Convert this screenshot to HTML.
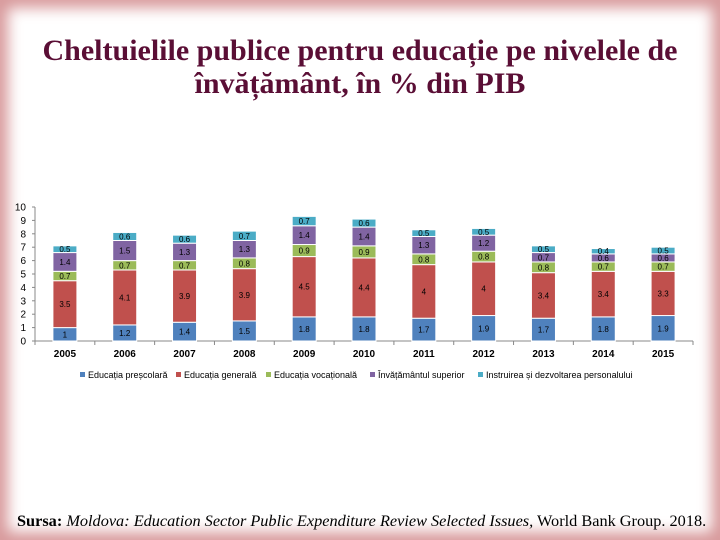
<!DOCTYPE html>
<html><head><meta charset="utf-8">
<style>
body{margin:0;width:720px;height:540px;overflow:hidden;font-family:"Liberation Sans",sans-serif;}
#frame{position:absolute;left:0;top:0;width:720px;height:540px;background:#fff;box-shadow:inset 0 0 14px 8px #d89a9c;}
#title{position:absolute;left:0;top:34px;width:720px;text-align:center;font-family:"Liberation Serif",serif;font-weight:bold;font-size:30px;line-height:33px;color:#5a0e35;}
#src{position:absolute;left:17px;top:511px;width:710px;font-family:"Liberation Serif",serif;font-size:16.3px;color:#000;white-space:nowrap;}
svg{position:absolute;left:0;top:0;}
</style></head><body>
<div id="frame"></div>
<div id="title">Cheltuielile publice pentru educație pe nivelele de<br>învățământ, în % din PIB</div>
<svg id="chart" width="720" height="540"></svg>
<div id="src"><b>Sursa:</b> <i>Moldova: Education Sector Public Expenditure Review Selected Issues,</i> World Bank Group. 2018.</div>
<script>
const categories=["2005","2006","2007","2008","2009","2010","2011","2012","2013","2014","2015"];
const seriesNames=["Educația preșcolară","Educația generală","Educația vocațională","Învățământul superior","Instruirea și dezvoltarea personalului"];
const prescolara=[1,1.2,1.4,1.5,1.8,1.8,1.7,1.9,1.7,1.8,1.9];
const generala=[3.5,4.1,3.9,3.9,4.5,4.4,4,4,3.4,3.4,3.3];
const vocationala=[0.7,0.7,0.7,0.8,0.9,0.9,0.8,0.8,0.8,0.7,0.7];
const superior=[1.4,1.5,1.3,1.3,1.4,1.4,1.3,1.2,0.7,0.6,0.6];
const instruire=[0.5,0.6,0.6,0.7,0.7,0.6,0.5,0.5,0.5,0.4,0.5];
const yTicks=[0,1,2,3,4,5,6,7,8,9,10];
const colors=["#4f81bd","#c0504d","#9bbb59","#8064a2","#4bacc6"];
const series=[prescolara,generala,vocationala,superior,instruire];
const NS="http://www.w3.org/2000/svg";
const svg=document.getElementById('chart');
const L=35,R=693,Y0=341,Y1=207,yMax=10;
const band=(R-L)/categories.length;
const y=v=>Y0-(v/yMax)*(Y0-Y1);
const xc=i=>L+band*(i+0.5);
function mk(t,a){const e=document.createElementNS(NS,t);for(const k in a)e.setAttribute(k,a[k]);svg.appendChild(e);return e;}
let ax=mk('line',{x1:L,y1:Y1,x2:L,y2:Y0,stroke:'#888'});


let bx=mk('line',{x1:L,y1:Y0,x2:R,y2:Y0,stroke:'#888'});


yTicks.forEach(t=>{
 mk('line',{x1:L-3,y1:y(t),x2:L,y2:y(t),stroke:'#888'});
 const tx=mk('text',{x:L-9,y:y(t)+3.5,'text-anchor':'end','font-size':10,fill:'#000'});
 tx.textContent=t;
 
 
});
for(let i=0;i<=categories.length;i++) mk('line',{x1:L+band*i,y1:Y0,x2:L+band*i,y2:Y0+4,stroke:'#888'});
categories.forEach((c,i)=>{
 const tx=mk('text',{x:xc(i),y:Y0+16,'text-anchor':'middle','font-size':10,'font-weight':'bold',fill:'#000'});
 tx.textContent=c;
 
 
 let acc=0;
 series.forEach((s,k)=>{
  const v=s[i];
  const r=mk('rect',{x:xc(i)-12,y:y(acc+v),width:24,height:y(acc)-y(acc+v),fill:colors[k],stroke:'#fff','stroke-width':1});
  
  
  const lb=mk('text',{x:xc(i),y:(y(acc)+y(acc+v))/2+3,'text-anchor':'middle','font-size':8,fill:'#000'});
  lb.textContent=v;
  
  
  acc+=v;
 });
});
const lx=[80,176,266,370,478];
seriesNames.forEach((n,k)=>{
 const r=mk('rect',{x:lx[k],y:372,width:5,height:5,fill:colors[k]});
 
 
 const t=mk('text',{x:lx[k]+8,y:378,'font-size':9,fill:'#000'});
 t.textContent=n;
 
 
});
</script>
</body></html>
